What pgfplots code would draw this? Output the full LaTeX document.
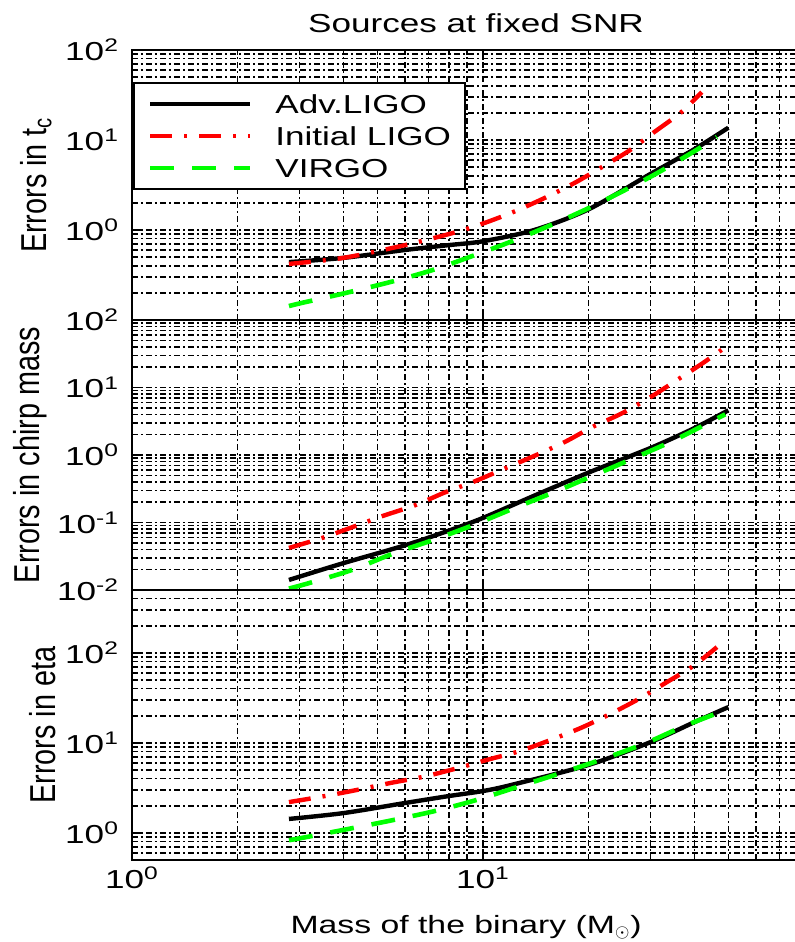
\documentclass[border=0pt]{standalone}
\usepackage{fontspec}
\setmainfont{Liberation Sans}[FakeStretch=1.35]
\newfontfamily\narrowfont{Liberation Sans}[FakeStretch=0.8]
\usepackage{pgfplots}
\pgfplotsset{compat=1.18}

\pgfplotsset{
  every axis/.append style={
    scale only axis, width=351pt, height=135pt,
    xmin=1, xmax=100,
    xtick={1,10,100},
    minor xtick={2,3,4,5,6,7,8,9,20,30,40,50,60,70,80,90},
    grid=both,
    major grid style={black, line width=0.75pt, dash pattern=on 3pt off 1.5pt on 1pt off 1.5pt},
    minor grid style={black, line width=0.75pt, dash pattern=on 3pt off 1.5pt on 1pt off 1.5pt},
    tick align=inside, major tick length=5pt, minor tick length=2.5pt,
    tick style={black, line width=0.7pt},
    axis line style={black, line width=1pt},
    ticklabel style={font=\fontsize{13}{15}\selectfont},
    yticklabel style={xshift=-3pt},
  },
}
\tikzset{
  advstyle/.style={black, line width=2.2pt, smooth},
  inistyle/.style={red, line width=2.2pt, smooth, dash pattern=on 11pt off 6pt on 1.5pt off 6pt},
  virstyle/.style={green, line width=2.3pt, smooth, dash pattern=on 12pt off 9pt},
}

\begin{document}
\begin{tikzpicture}
% ---------------- top panel: errors in t_c
\begin{loglogaxis}[at={(0pt,0pt)}, anchor=north west,
  ymin=0.1, ymax=100,
  ytick={0.1,1,10,100},
  yticklabels={,10\textsuperscript{0},10\textsuperscript{1},10\textsuperscript{2}},
  minor ytick={0.2,0.3,0.4,0.5,0.6,0.7,0.8,0.9,2,3,4,5,6,7,8,9,20,30,40,50,60,70,80,90},
  xticklabels={},
  ylabel={Errors in t\textsubscript{c}},
  ylabel style={at={(axis description cs:-0.137,0.5)}, anchor=center, font=\narrowfont\fontsize{18}{20}\selectfont},
  title={Sources at fixed SNR},
  title style={at={(axis description cs:0.49,1.022)}, anchor=base, font=\fontsize{13}{15}\selectfont},
  legend image code/.code={\draw[#1] (0pt,0pt) -- (50pt,0pt); \path[draw=none,fill=none] (0pt,0pt) -- (62.5pt,0pt);},
  legend style={at={(axis description cs:0.0015,0.881)}, anchor=north west,
    draw=black, line width=1pt, fill=white, inner xsep=7pt, inner ysep=5.75pt,
    font=\fontsize{13}{15}\selectfont, row sep=6.5pt,
    nodes={inner sep=0pt, text height=9.5pt, text depth=0pt}},
  legend cell align=left,
]
\addplot[advstyle, mark=none] coordinates {(2.8,0.44)(4,0.49)(6,0.6)(8,0.68)(10,0.75)(14,1.0)(20,1.7)(30,4.2)(40,7.9)(50,13.7)};
\addlegendentry{Adv.LIGO}
\addplot[inistyle, mark=none] coordinates {(2.8,0.42)(4,0.49)(6,0.68)(8.4,0.95)(10.3,1.23)(12.5,1.65)(15.2,2.33)(18.4,3.4)(22,5.1)(26.2,7.7)(30.8,12.3)(36.8,20.5)(42,34)};
\addlegendentry{Initial LIGO}
\addplot[virstyle, mark=none] coordinates {(2.8,0.143)(3.05,0.155)(4.07,0.2)(5.44,0.264)(7.2,0.36)(9.4,0.52)(12.2,0.76)(15.9,1.17)(20.6,1.85)(30,3.9)(40,7.5)(46.4,10.8)};
\addlegendentry{VIRGO}
\end{loglogaxis}
% ---------------- middle panel: errors in chirp mass
\begin{loglogaxis}[at={(0pt,-135pt)}, anchor=north west,
  ymin=0.01, ymax=100,
  ytick={0.01,0.1,1,10,100},
  yticklabels={10\textsuperscript{-2},10\textsuperscript{-1},10\textsuperscript{0},10\textsuperscript{1},10\textsuperscript{2}},
  minor ytick={0.02,0.03,0.04,0.05,0.06,0.07,0.08,0.09,0.2,0.3,0.4,0.5,0.6,0.7,0.8,0.9,2,3,4,5,6,7,8,9,20,30,40,50,60,70,80,90},
  xticklabels={},
  ylabel={Errors in chirp mass},
  ylabel style={at={(axis description cs:-0.145,0.5)}, anchor=center, font=\narrowfont\fontsize{18}{20}\selectfont},
]
\addplot[advstyle, mark=none] coordinates {(2.8,0.0141)(4,0.025)(6,0.046)(8,0.076)(10,0.117)(14,0.25)(20,0.55)(30,1.27)(40,2.5)(50,4.6)};
\addplot[inistyle, mark=none] coordinates {(2.8,0.042)(3.48,0.059)(4.26,0.086)(5.18,0.125)(6.4,0.18)(7.8,0.28)(9.5,0.41)(11.6,0.64)(14,0.97)(17.1,1.56)(20.5,2.6)(25,4.2)(30,7.2)(35.7,12.9)(42.3,23)(50,42.6)};
\addplot[virstyle, mark=none] coordinates {(2.8,0.0105)(3.2,0.0127)(4.23,0.0198)(5.5,0.0341)(7.2,0.055)(9.4,0.092)(12.3,0.164)(16,0.283)(20.8,0.506)(26.9,0.9)(35,1.65)(45,3.2)(49,4.0)};
\end{loglogaxis}
% ---------------- bottom panel: errors in eta
\begin{loglogaxis}[at={(0pt,-270pt)}, anchor=north west,
  ymin=0.5, ymax=500,
  ytick={1,10,100},
  yticklabels={10\textsuperscript{0},10\textsuperscript{1},10\textsuperscript{2}},
  minor ytick={0.6,0.7,0.8,0.9,2,3,4,5,6,7,8,9,20,30,40,50,60,70,80,90,200,300,400},
  xticklabels={10\textsuperscript{0},10\textsuperscript{1},10\textsuperscript{2}},
  ylabel={Errors in eta},
  ylabel style={at={(axis description cs:-0.127,0.5)}, anchor=center, font=\narrowfont\fontsize{18}{20}\selectfont},
  xlabel={Mass of the binary (M$_\odot$)},
  xlabel style={at={(axis description cs:0.476,-0.274)}, anchor=base, font=\fontsize{12.5}{15}\selectfont},
]
\addplot[advstyle, mark=none] coordinates {(2.8,1.43)(4,1.66)(6,2.15)(8,2.57)(10,2.92)(12,3.4)(20,5.7)(30,10.2)(40,17)(50,25)};
\addplot[inistyle, mark=none] coordinates {(2.8,2.2)(3.55,2.57)(4.37,3.0)(5.47,3.6)(6.75,4.2)(8.4,5.2)(10.3,6.5)(12.7,8.1)(15.6,10.8)(19.1,14.8)(23,20.9)(27.8,30.8)(33,46)(39.6,71)(46.4,116)};
\addplot[virstyle, mark=none] coordinates {(2.8,0.83)(3.05,0.88)(4.1,1.1)(5.4,1.36)(7.2,1.73)(9.5,2.3)(12.7,3.3)(16.6,4.6)(21.4,6.4)(29,9.9)(37.6,15.5)(50,23.8)};
\end{loglogaxis}
\pgfresetboundingbox
\path[use as bounding box] (-66pt,-446pt) rectangle (331.5pt,25pt);
\end{tikzpicture}
\end{document}
